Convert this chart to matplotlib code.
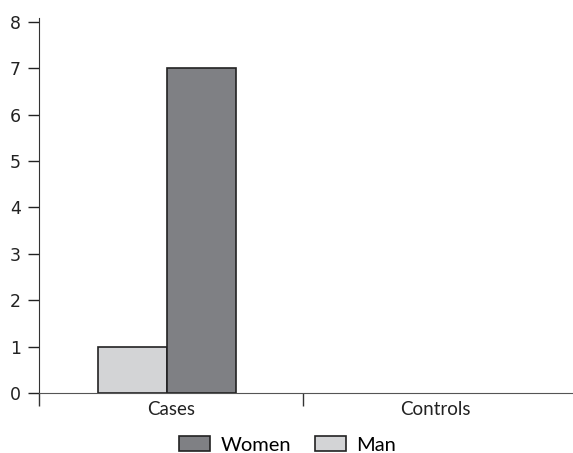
import numpy as np
import matplotlib.pyplot as plt

groups = ["Cases", "Controls"]
man = [1, 0]
women = [7, 0]
yticks = [0, 1, 2, 3, 4, 5, 6, 7, 8]

man_color = "#d3d4d6"
women_color = "#7f8084"

fig = plt.figure(figsize=(5.73, 4.53), dpi=100)
ax = fig.add_axes([0.068, 0.1325, 0.932, 0.8275])

x = np.arange(len(groups))
w = 0.262
b1 = ax.bar(x + 0.485 - w / 2, man, w, color=man_color, edgecolor="#222222", linewidth=1.2, label="Man")
b2 = ax.bar(x + 0.485 + w / 2, women, w, color=women_color, edgecolor="#222222", linewidth=1.2, label="Women")
# empty bars are not drawn in the original
for bars, vals in ((b1, man), (b2, women)):
    for p, v in zip(bars.patches, vals):
        if v == 0:
            p.set_visible(False)

ax.set_xlim(0, 2.02)
ax.set_ylim(0, 8.08)

for s in ["top", "right"]:
    ax.spines[s].set_visible(False)
ax.spines["left"].set_color("#333333")
ax.spines["bottom"].set_color("#555555")

ax.set_yticks(yticks)
ax.tick_params(axis="y", length=8, width=1, direction="out", labelsize=12.5, pad=5, colors="#222222")
ax.set_xticks([0, 1])
ax.set_xticklabels([])
ax.tick_params(axis="x", which="major", length=9, width=1, direction="out", color="#333333")
ax.set_xticks(x + 0.5, minor=True)
ax.set_xticklabels(groups, minor=True, fontsize=13.5, family="Lato", color="#222222")
ax.tick_params(axis="x", which="minor", length=0, pad=6)

h, l = ax.get_legend_handles_labels()
ax.legend(h[::-1], l[::-1], loc="upper center", bbox_to_anchor=(0.466, -0.078), ncol=2, frameon=False,
          prop={"family": "Lato", "size": 14.5}, handlelength=1.55, handleheight=0.75, columnspacing=1.2,
          handletextpad=0.5, borderpad=0.2)

fig.savefig("out.png", dpi=100)
